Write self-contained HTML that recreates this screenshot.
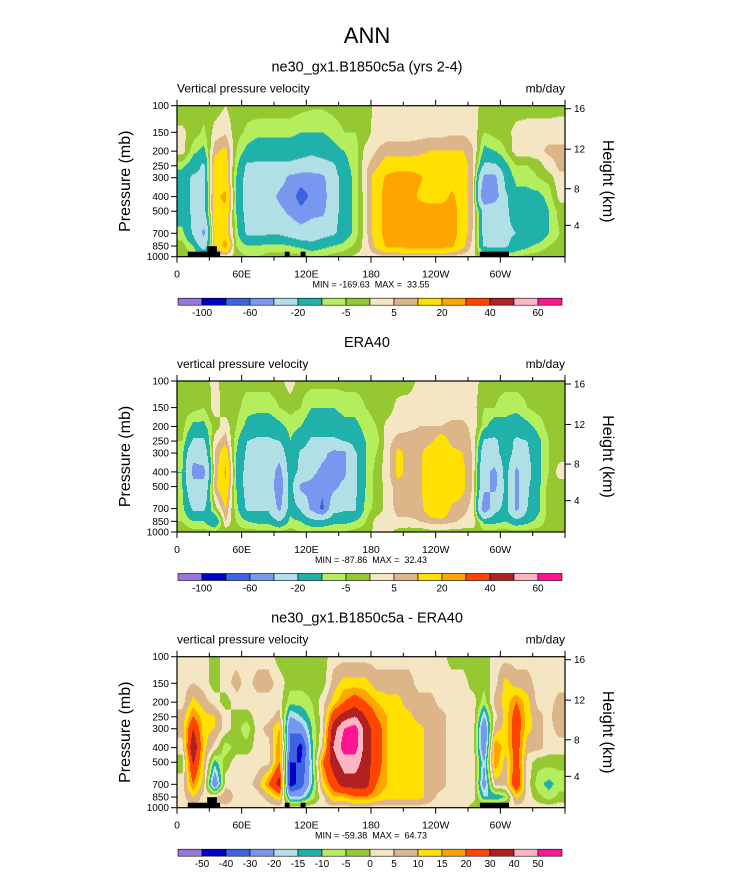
<!DOCTYPE html>
<html><head><meta charset="utf-8"><style>
body{margin:0;background:#fff;}
svg{display:block;font-family:"Liberation Sans",Arial,sans-serif;}
text{white-space:pre;}
</style></head><body>
<svg id="fig" width="733" height="888" viewBox="0 0 733 888">
<text x="367" y="43" font-size="22" text-anchor="middle">ANN</text>
</svg>
<script>
// ---- data (columns at lon 5,15,...,355; each: p=100,150,200,250,300,400,500,700,850,1000) ----
const pressureLevels=[100,150,200,250,300,400,500,700,850,1000];
const lonCenters=[5,15,25,35,45,55,65,75,85,95,105,115,125,135,145,155,165,175,185,195,205,215,225,235,245,255,265,275,285,295,305,315,325,335,345,355];
const modelCols=[
[-3,1,3,-8,-15,-15,-15,-8,-3,-2],[-3,-2,-8,-15,-22,-22,-22,-22,-10,-3],[-3,-6,-12,-22,-22,-25,-25,-45,-30,-5],
[-3,2,8,15,15,18,18,15,10,0],[0,4,12,15,15,22,18,15,25,2],[-3,-3,-5,-8,-10,-10,-10,-8,-5,-2],
[-3,-6,-12,-22,-25,-25,-25,-22,-10,-5],[-2,-8,-15,-22,-25,-25,-25,-22,-10,-5],[-2,-8,-15,-22,-25,-28,-25,-22,-8,-3],
[-2,-8,-15,-22,-30,-45,-35,-22,-8,-3],[-2,-8,-15,-22,-45,-50,-45,-25,-10,-3],[-3,-10,-15,-25,-50,-70,-55,-30,-12,-3],
[-4,-10,-18,-25,-50,-55,-45,-30,-15,-5],[-4,-10,-15,-25,-45,-50,-45,-25,-12,-5],[-3,-8,-12,-22,-25,-25,-25,-22,-10,-3],
[-2,-5,-10,-12,-15,-15,-15,-15,-8,-2],[-1,-5,-8,-8,-8,-8,-8,-8,-4,1],[-3,-3,2,4,4,3,3,3,2,2],
[2,3,5,8,15,15,15,15,12,3],[2,3,7,15,22,25,25,25,22,4],[2,3,7,15,25,25,25,25,22,4],
[2,3,7,15,25,25,25,25,25,4],[2,3,8,15,22,18,25,25,25,4],[2,3,10,15,15,15,25,25,25,4],
[2,3,10,15,15,15,25,25,25,4],[2,4,10,15,15,22,25,25,22,3],[2,4,10,15,15,15,15,15,12,3],
[2,3,5,5,5,5,5,4,3,1],[-2,-5,-12,-22,-45,-60,-25,-25,-22,-3],[-2,-3,-10,-22,-45,-50,-25,-22,-22,-5],
[-3,-2,-5,-12,-15,-22,-22,-22,-22,-5],[-3,2,3,-5,-8,-12,-15,-20,-15,-5],[-3,3,3,-5,-8,-12,-15,-20,-12,-3],
[-3,3,4,-3,-5,-12,-15,-18,-8,-3],[-3,3,6,3,-3,-8,-10,-10,-5,-2],[-2,3,6,6,4,2,-3,-5,-3,-2]];
const obsCols=[
[-3,-3,-3,-5,-8,-10,-10,-8,-5,-2],[-3,-3,-12,-22,-35,-45,-35,-22,-10,-3],[-3,-5,-12,-22,-30,-45,-35,-22,-10,-3],
[2,3,-3,3,5,5,8,-3,-20,-3],[-3,-3,3,8,15,22,18,10,5,-3],[-3,-3,-5,-8,-10,-10,-10,-8,-5,-3],
[-3,-8,-12,-20,-22,-25,-25,-22,-10,-3],[-3,-8,-15,-22,-25,-30,-28,-22,-12,-3],[-3,-8,-15,-22,-22,-25,-25,-22,-12,-3],
[-2,-5,-12,-20,-30,-50,-55,-45,-20,-3],[3,-3,-8,-10,-10,-10,-12,-12,-8,-3],[-3,-5,-10,-15,-22,-25,-45,-22,-10,-5],
[-3,-10,-15,-22,-25,-35,-45,-45,-15,-5],[-3,-10,-15,-22,-35,-45,-55,-65,-15,-5],[-3,-10,-15,-22,-45,-45,-45,-25,-12,-5],
[-3,-8,-12,-20,-45,-45,-35,-22,-12,-5],[-3,-8,-12,-15,-22,-22,-22,-22,-10,-3],[-3,-5,-8,-10,-10,-10,-10,-8,-5,-3],
[-3,-3,-5,-8,-5,-3,-3,-3,2,2],[-3,-3,2,3,3,3,2,2,2,2],[-3,2,3,7,12,12,8,7,4,-2],
[-3,3,4,7,8,8,7,7,4,-3],[2,3,5,7,8,8,8,7,5,-3],[3,3,5,8,15,18,18,15,7,-2],
[3,3,5,15,18,18,18,18,8,-2],[3,3,6,8,12,15,18,8,6,-2],[3,3,6,8,10,12,12,7,4,-2],
[3,2,4,4,4,4,4,3,3,-2],[-3,-5,-8,-22,-30,-35,-35,-55,-12,-3],[-3,-5,-15,-22,-25,-45,-45,-25,-12,-3],
[-3,-8,-12,-15,-12,-12,-15,-15,-10,-3],[-3,-8,-15,-22,-25,-45,-45,-45,-15,-3],[-3,-5,-12,-20,-22,-25,-22,-20,-12,-3],
[-3,-3,-8,-12,-12,-12,-12,-12,-8,-3],[-3,-3,-3,-5,-5,-5,-3,-3,-3,-3],[-3,-3,-3,-3,-3,3,-3,-3,-3,-3]];
const diffCols=[
[3,3,3,7,7,3,-3,3,3,2],[3,5,12,20,30,40,32,20,10,3],[3,3,7,12,12,12,10,7,3,3],
[-3,-3,3,10,10,3,-12,-30,5,3],[3,3,-3,3,3,-8,-3,3,10,3],[3,7,3,-3,-3,-3,3,3,3,3],
[3,3,3,-3,-8,-3,3,3,3,3],[3,7,3,3,3,3,3,7,3,3],[3,7,3,3,7,3,3,20,7,3],
[-3,3,3,7,15,20,20,35,15,3],[-3,-3,-8,-20,-30,-30,-40,-45,-20,3],[-3,-3,-8,-15,-25,-45,-40,-35,-20,3],
[-3,-3,-5,-8,-10,-12,-15,-15,-8,3],[-3,-3,3,3,3,7,20,12,3,3],[3,7,12,25,35,40,35,25,15,3],
[3,12,20,35,50,55,45,35,15,3],[3,12,25,40,55,55,45,35,20,3],[3,12,20,30,35,35,35,35,20,3],
[3,7,15,20,25,25,25,20,15,3],[3,7,12,15,15,15,15,15,12,3],[3,7,12,12,12,12,12,12,12,3],
[3,7,7,12,12,12,12,12,12,3],[3,3,7,7,12,12,12,12,12,3],[3,3,7,7,7,7,7,7,7,3],
[3,3,3,7,7,7,7,7,3,3],[-3,3,3,3,3,3,3,3,3,3],[-3,3,3,3,3,3,3,3,3,3],
[-3,-3,3,3,3,3,3,3,3,-3],[-3,-3,-8,-20,-30,-30,-20,-25,-15,3],[3,3,7,3,7,20,20,7,-15,3],
[3,12,12,12,12,12,7,7,-10,3],[3,7,20,25,25,25,25,30,12,3],[3,7,12,12,12,7,3,3,3,3],
[3,3,3,7,7,7,-3,-8,-3,3],[3,3,3,3,3,3,-3,-12,-8,3],[3,3,7,10,7,3,-3,-8,-3,3]];
const absLevels=[-100,-80,-60,-40,-20,-10,-5,0,5,10,20,30,40,50,60];
const absLabels=["-100","","-60","","-20","","-5","","5","","20","","40","","60"];
const diffLevels=[-50,-40,-30,-20,-15,-10,-5,0,5,10,15,20,30,40,50];
const diffLabels=["-50","-40","-30","-20","-15","-10","-5","0","5","10","15","20","30","40","50"];
const fillColors=["#9a76dc","#0000c8","#3c64e0","#7898f0","#b0e0e6","#20b2aa","#b4ee5c","#96c832","#f4e6c2","#dcb688","#ffe000","#ffa500","#ff4500","#b02222","#ffb4c4","#ff1493"];
const xTickLons=[0,60,120,180,240,300];
const xTickLabels=["0","60E","120E","180","120W","60W"];
const heightKm=[16,12,8,4];
const heightP=[104.7,194,355,620];
const landBlocks=[[10,40,0],[28,37,1],[100,104.5,0],[114.7,119.3,0],[281,308,0]];

const NS='http://www.w3.org/2000/svg';
const svg=document.getElementById('fig');
const X0=177,X1=565,PH=151;
function el(tag,attrs,parent){const e=document.createElementNS(NS,tag);for(const k in attrs)e.setAttribute(k,attrs[k]);(parent||svg).appendChild(e);return e;}
function txt(x,y,s,size,anchor,parent,extra){const t=el('text',Object.assign({x:x,y:y,'font-size':size,'text-anchor':anchor||'start'},extra||{}),parent);t.textContent=s;return t;}
function xs(lon){return X0+(X1-X0)*lon/360;}
function ys(p,top){return top+PH*Math.log10(p/100);}
function colorOf(v,levels){let i=0;while(i<levels.length&&v>=levels[i])i++;return fillColors[i];}
function sample(cols,lon,lp){
  let fi=(lon-5)/10;fi=Math.max(0,Math.min(lonCenters.length-1,fi));
  const i0=Math.min(Math.floor(fi),lonCenters.length-2),tx=fi-i0;
  const lps=pressureLevels.map(p=>Math.log10(p));
  let j=0;while(j<lps.length-2&&lp>lps[j+1])j++;
  let ty=(lp-lps[j])/(lps[j+1]-lps[j]);ty=Math.max(0,Math.min(1,ty));
  const a=cols[i0][j],b=cols[i0+1][j],c=cols[i0][j+1],d=cols[i0+1][j+1];
  return (a*(1-tx)+b*tx)*(1-ty)+(c*(1-tx)+d*tx)*ty;
}
function panel(top,cols,levels,labels,sub,header,minmax,hasLand,name){
  const g=el('g',{});
  
  
  const st=txt(367,top-34,sub,14.5,'middle',g);
  
  
  const hl=txt(177,top-13,header,12,'start',g);
  
  
  const hr=txt(565,top-13,'mb/day',12,'end',g);
  
  
  const fg=el('g',{'shape-rendering':'crispEdges'},g);
  
  
  const W=X1-X0;
  for(let r=0;r<PH;r+=1){
    const lp=2+(r+0.5)/PH;
    let runStart=0,runCol=null;
    for(let c=0;c<=W;c++){
      let col=null;
      if(c<W){const lon=(c+0.5)/W*360;col=colorOf(sample(cols,lon,lp),levels);}
      if(col!==runCol){
        if(runCol!==null){const rc=el('rect',{x:X0+runStart,y:top+r,width:c-runStart,height:1.05,fill:runCol},fg);
          
          }
        runStart=c;runCol=col;
      }
    }
  }
  if(hasLand){
    landBlocks.forEach(b=>{
      const h=b[2]?10.5:5;
      const lr=el('rect',{x:xs(b[0]),y:top+PH-h,width:xs(b[1])-xs(b[0]),height:h,fill:'#000'},g);
      
      
    });
  }
  const fr=el('rect',{x:X0,y:top,width:W,height:PH,fill:'none',stroke:'#000','stroke-width':1.2},g);
  
  
  for(let lon=0;lon<=360;lon+=30){
    const x=xs(lon),L=(lon%60===0)?6:4;
    el('line',{x1:x,x2:x,y1:top,y2:top-L,stroke:'#000','stroke-width':1},g);
    el('line',{x1:x,x2:x,y1:top+PH,y2:top+PH+L,stroke:'#000','stroke-width':1},g);
  }
  xTickLons.forEach((lon,i)=>{const t=txt(xs(lon),top+PH+21,xTickLabels[i],10.5,'middle',g);
    
    });
  pressureLevels.forEach(p=>{const y=ys(p,top);
    el('line',{x1:X0,x2:X0-6,y1:y,y2:y,stroke:'#000'},g);
    const t=txt(169,y+3.5,String(p),10,'end',g);
    
    });
  heightKm.forEach((h,i)=>{const y=ys(heightP[i],top);
    el('line',{x1:X1,x2:X1+6,y1:y,y2:y,stroke:'#000'},g);
    const t=txt(574,y+3.5,String(h),10,'start',g);
    
    });
  const ya=txt(0,0,'Pressure (mb)',16,'middle',g,{transform:`translate(130,${top+PH/2}) rotate(-90)`});
  
  
  const yb=txt(0,0,'Height (km)',16,'middle',g,{transform:`translate(603,${top+PH/2}) rotate(90)`});
  
  
  const mm=txt(371,top+PH+31,minmax,9,'middle',g);
  
  
  const cb=el('g',{},g);
  
  
  const cy=top+PH+41.5,bw=24;
  fillColors.forEach((c,i)=>{const r=el('rect',{x:178+i*bw,y:cy,width:bw,height:7,fill:c,stroke:'#000','stroke-width':0.6},cb);
    
    });
  labels.forEach((s,i)=>{if(!s)return;const t=txt(178+(i+1)*bw,cy+18,s,10,'middle',cb);
    
    });
}
panel(105.7,modelCols,absLevels,absLabels,'ne30_gx1.B1850c5a (yrs 2-4)','Vertical pressure velocity','MIN = -169.63  MAX =  33.55',true,'panel-model');
panel(381,obsCols,absLevels,absLabels,'ERA40','vertical pressure velocity','MIN = -87.86  MAX =  32.43',false,'panel-era40');
panel(656.7,diffCols,diffLevels,diffLabels,'ne30_gx1.B1850c5a - ERA40','vertical pressure velocity','MIN = -59.38  MAX =  64.73',true,'panel-difference');
</script>
</body></html>
